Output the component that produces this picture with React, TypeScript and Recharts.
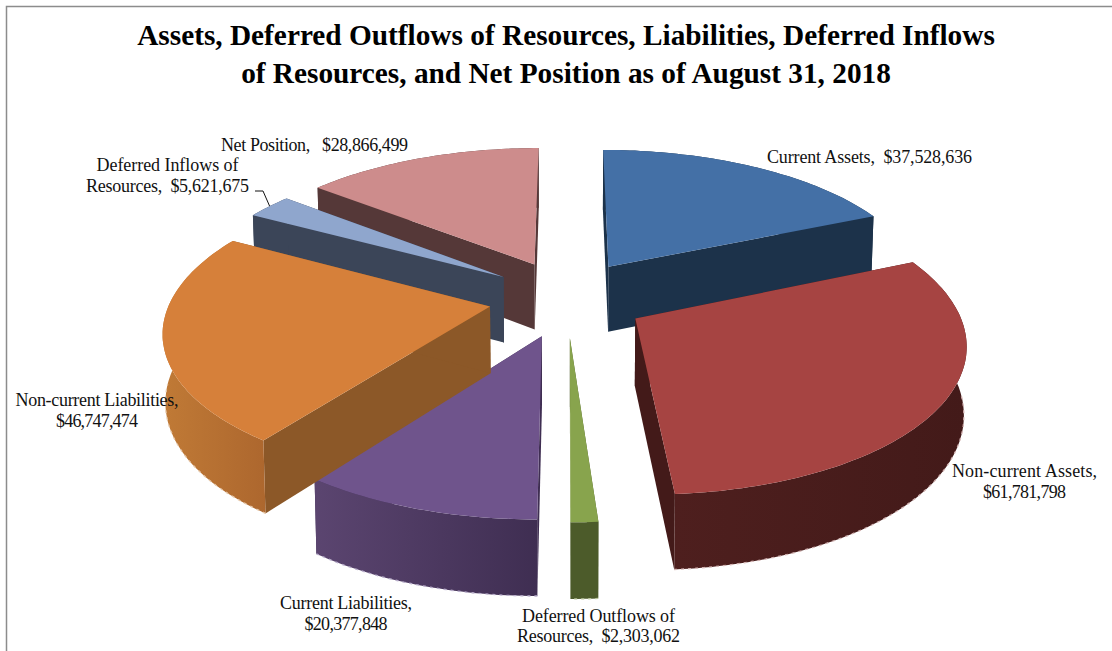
import { PieChart, Pie } from 'recharts';

const CATEGORIES = [
    'Current Assets',
    'Non-current Assets',
    'Deferred Outflows of Resources',
    'Current Liabilities',
    'Non-current Liabilities',
    'Deferred Inflows of Resources',
    'Net Position',
];
const VALUES = [37528636, 61781798, 2303062, 20377848, 46747474, 5621675, 28866499];
const CAPTIONS = [
    ['Current Assets,  $37,528,636'],
    ['Non-current Assets,', '$61,781,798'],
    ['Deferred Outflows of', 'Resources,  $2,303,062'],
    ['Current Liabilities,', '$20,377,848'],
    ['Non-current Liabilities,', '$46,747,474'],
    ['Deferred Inflows of', 'Resources,  $5,621,675'],
    ['Net Position,   $28,866,499'],
];
const TITLE_LINES = [
    'Assets, Deferred Outflows of Resources, Liabilities, Deferred Inflows',
    'of Resources, and Net Position as of August 31, 2018',
];

const TOP_COLORS = ['#4470a6', '#a64442', '#88a44d', '#6f548c', '#d6803a', '#8fa6cd', '#cd8c8c'];
const WALL_COLORS = ['#1c324a', '#431a19', '#4c5b2a', '#3f2e52', '#8c5828', '#3b4558', '#553838'];
const RIM_LEFT = ['#1c324a', '#4e1f1e', '#4c5b2a', '#5b4570', '#c07a36', '#3b4558', '#553838'];
const RIM_RIGHT = ['#1c324a', '#431a19', '#4c5b2a', '#3f2e52', '#ad672e', '#3b4558', '#553838'];
const FRINGE_COLORS = ['#8fa3ba', '#d3b4b3', '#b9c49c', '#b9aecb', '#e6c7a8', '#b4bccb', '#c9b4b4'];

// where each caption sits: centre x, first baseline y, width of each line
const CAPTION_X = [869.5, 1024.5, 598.5, 346, 97, 167.5, 314.5];
const CAPTION_Y = [163, 477, 621.5, 609, 406, 171, 151];
const CAPTION_W = [[205], [145, 83], [153, 163], [132, 83], [163, 82], [142, 163], [187]];

const data = CATEGORIES.map((name, i) => ({ name, value: VALUES[i] }));

// painter's order: back slices first, the Pie draws one layer at a time
const LAYERS = [[6], [5], [0, 1, 2, 3, 4]];

const EXPLODE_X = 0.245;
const EXPLODE_Y = 0.27;
const PERSPECTIVE = 0.15;
const X_STRETCH = 2.23;
const DEPTH = 66.5;

function project(u: number, v: number, p: any, lower: boolean) {
    const s = 1 / (1 - PERSPECTIVE * v);
    const b = p.outerRadius;
    const shrink = lower ? 0.993 : 1;
    const x = p.cx + b * X_STRETCH * u * s * shrink;
    const y = p.cy + b * v * s + (lower ? DEPTH * (0.35 + 0.65 * s) : 0);
    return [x, y];
}

const toLine = (pts: number[][]) =>
    'M' + pts.map((q) => `${q[0].toFixed(1)},${q[1].toFixed(1)}`).join('L');
const toPath = (pts: number[][]) => toLine(pts) + 'Z';

function Slice3D(props: any) {
    const { startAngle, endAngle, index } = props;
    const a0 = ((90 - startAngle) * Math.PI) / 180;
    const a1 = ((90 - endAngle) * Math.PI) / 180;
    const mid = (a0 + a1) / 2;
    const ou = EXPLODE_X * Math.sin(mid);
    const ov = -EXPLODE_Y * Math.cos(mid);

    const steps = Math.max(2, Math.ceil(Math.abs(a1 - a0) / 0.02));
    const arc: number[][] = [];
    for (let i = 0; i <= steps; i++) {
        const t = a0 + ((a1 - a0) * i) / steps;
        arc.push([ou + Math.sin(t), ov - Math.cos(t)]);
    }
    const up = (q: number[]) => project(q[0], q[1], props, false);
    const low = (q: number[]) => project(q[0], q[1], props, true);

    const tip = [ou, ov];
    const first = arc[0];
    const last = arc[arc.length - 1];
    const topPts = [up(tip), ...arc.map(up)];
    const rimPts = [...arc.map(up), ...arc.map(low).reverse()];
    const xs = rimPts.map((q) => q[0]);
    // only the part of the rim that faces the viewer shows its bottom edge
    const frontEdge = arc.filter((q) => q[1] - ov > 0.05);
    const gid = `rim-${index}`;

    return (
        <g>
            <defs>
                <linearGradient
                    id={gid}
                    gradientUnits="userSpaceOnUse"
                    x1={Math.min(...xs)}
                    x2={Math.max(...xs)}
                    y1={0}
                    y2={0}
                >
                    <stop offset="0%" stopColor={RIM_LEFT[index]} />
                    <stop offset="100%" stopColor={RIM_RIGHT[index]} />
                </linearGradient>
            </defs>
            <path d={toPath([up(tip), up(first), low(first), low(tip)])} fill={WALL_COLORS[index]} />
            <path d={toPath([up(tip), up(last), low(last), low(tip)])} fill={WALL_COLORS[index]} />
            <path d={toPath(rimPts)} fill={`url(#${gid})`} />
            {frontEdge.length > 1 && (
                <path
                    d={toLine(frontEdge.map(low))}
                    fill="none"
                    stroke={FRINGE_COLORS[index]}
                    strokeWidth={1.3}
                    strokeDasharray="3 4"
                />
            )}
            <path d={toPath(topPts)} fill={TOP_COLORS[index]} />
        </g>
    );
}

const labelStyle = { fontFamily: '"Liberation Serif"', fontSize: 18, fill: '#111', whiteSpace: 'pre' } as const;

function Caption({ index }: { index: number }) {
    return (
        <g>
            {CAPTIONS[index].map((line, i) => (
                <text
                    key={line}
                    x={CAPTION_X[index]}
                    y={CAPTION_Y[index] + i * 20.8}
                    textAnchor="middle"
                    textLength={CAPTION_W[index][i]}
                    lengthAdjust="spacing"
                    style={labelStyle}
                >
                    {line}
                </text>
            ))}
        </g>
    );
}

export default function App() {
    return (
        <div style={{ position: 'absolute', left: 0, top: 0, width: 1112, height: 651, background: '#fff' }}>
            <PieChart width={1112} height={651} margin={{ top: 0, right: 0, bottom: 0, left: 0 }}>
                <path d="M6.5,651V6.5H1112" fill="none" stroke="#8c8c8c" strokeWidth={1.5} />
                {TITLE_LINES.map((line, i) => (
                    <text
                        key={line}
                        x={566}
                        y={45 + i * 38}
                        textAnchor="middle"
                        style={{ fontFamily: '"Liberation Serif"', fontSize: 29.3, fontWeight: 700, fill: '#000' }}
                    >
                        {line}
                    </text>
                ))}
                {LAYERS.map((layer, n) => (
                    <Pie
                        key={layer.join('-')}
                        data={data}
                        dataKey="value"
                        nameKey="name"
                        cx={567}
                        cy={298}
                        innerRadius={0}
                        outerRadius={143}
                        startAngle={90}
                        endAngle={-270}
                        stroke="none"
                        label={n === LAYERS.length - 1 ? (p: any) => <Caption index={p.index} /> : false}
                        labelLine={false}
                        isAnimationActive={false}
                        shape={(p: any) => (layer.includes(p.index) ? <Slice3D {...p} /> : <g />)}
                    />
                ))}
                <path d="M255,191H263L270,207" fill="none" stroke="#111" strokeWidth={1} />
            </PieChart>
        </div>
    );
}
